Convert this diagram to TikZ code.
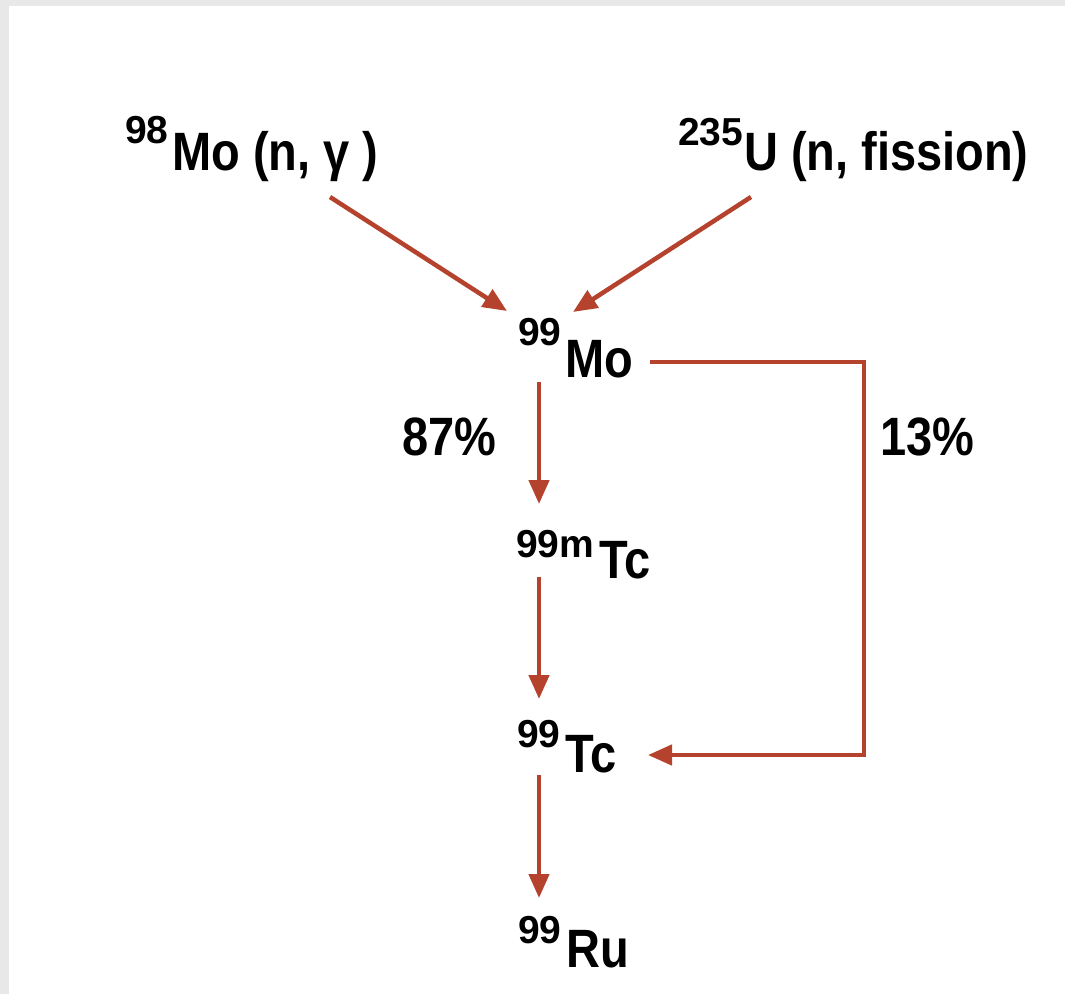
\documentclass[tikz,border=0pt]{standalone}
\usepackage{fontspec}
\usetikzlibrary{arrows.meta}
\newfontfamily\mainf{Liberation Sans}[FakeStretch=0.87]
\newfontfamily\supf{Liberation Sans}[FakeStretch=1.0]
\definecolor{arr}{RGB}{180,66,44}
\definecolor{bgray}{RGB}{232,232,232}
\newcommand\isolab[4]{\raisebox{#3}{\supf\bfseries\fontsize{39}{39}\selectfont #1}\hspace{#4}{\mainf\bfseries\fontsize{54}{54}\selectfont #2}}
\begin{document}
\begin{tikzpicture}[x=1pt,y=-1pt,
  lab/.style={anchor=base west,inner sep=0pt,outer sep=0pt},
  pct/.style={anchor=base west,inner sep=0pt,font=\mainf\bfseries\fontsize{54}{54}\selectfont},
  conn/.style={draw=arr,line width=4.5pt,-{Triangle[length=24pt,width=20pt,fill=arr]}}]
\useasboundingbox (0,0) rectangle (1065,994);
\fill[bgray] (0,0) rectangle (1065,994);
\fill[white] (9,6) rectangle (1065,994);
% labels
\node[lab] (mo98) at (125,170) {\isolab{98}{Mo (n, γ )}{27pt}{4pt}};
\node[lab] (u235) at (678,170) {\isolab{235}{U (n, fission)}{25pt}{1pt}};
\node[lab] (mo99) at (518,377) {\isolab{99}{Mo}{32pt}{4pt}};
\node[lab] (tc99m) at (516,578) {\isolab{99m}{Tc}{21pt}{5pt}};
\node[lab] (tc99) at (517,772) {\isolab{99}{Tc}{25pt}{5pt}};
\node[lab] (ru99) at (518,967) {\isolab{99}{Ru}{24pt}{5pt}};
\node[pct] (p87) at (402,455) {87\%};
\node[pct] (p13) at (880,455) {13\%};
% connector ends
\coordinate (a1s) at (330,197);
\coordinate (a1e) at (507,311);
\coordinate (a2s) at (751,197);
\coordinate (a2e) at (573,312);
\coordinate (v1s) at (539,382);
\coordinate (v1e) at (539,504);
\coordinate (v2s) at (539,577);
\coordinate (v2e) at (539,699);
\coordinate (v3s) at (539,775);
\coordinate (v3e) at (539,898);
\coordinate (bs) at (650,362);
\coordinate (bc1) at (864,362);
\coordinate (bc2) at (864,755);
\coordinate (be) at (648,755);
% connectors
\draw[conn] (a1s) -- (a1e);
\draw[conn] (a2s) -- (a2e);
\draw[conn] (v1s) -- (v1e);
\draw[conn] (v2s) -- (v2e);
\draw[conn] (v3s) -- (v3e);
\draw[conn] (bs) -- (bc1) -- (bc2) -- (be);
\end{tikzpicture}
\end{document}
